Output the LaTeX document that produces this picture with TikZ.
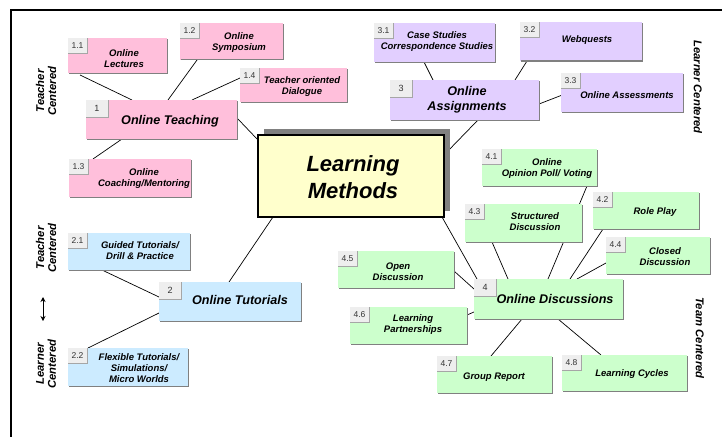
\documentclass[tikz,border=0pt]{standalone}
\usepackage{fontspec}
\setmainfont{Liberation Sans}
\usetikzlibrary{calc,backgrounds,arrows.meta}

\definecolor{pinkfill}{HTML}{FFBFDB}
\definecolor{lilacfill}{HTML}{E2CFFF}
\definecolor{bluefill}{HTML}{CCEBFF}
\definecolor{greenfill}{HTML}{CCFFCC}
\definecolor{yellowfill}{HTML}{FFFFCC}
\definecolor{edgegray}{HTML}{808080}
\definecolor{tagfill}{HTML}{EEEEEE}

\tikzset{
  boxbase/.style={rectangle, inner sep=0pt, outer sep=0pt, anchor=north west},
  tagbox/.style={rectangle, fill=tagfill, inner sep=0pt, outer sep=0pt, anchor=north west,
    font=\fontsize{8.5}{10}\selectfont, text=black!80},
  smalltag/.style={minimum width=19pt, minimum height=15pt},
  maintag/.style={minimum width=22pt, minimum height=17pt, font=\fontsize{9}{10}\selectfont},
  smalltext/.style={font=\fontsize{9.5}{11}\selectfont\bfseries\itshape, align=center, inner sep=0pt},
  maintext/.style={font=\fontsize{12.6}{15.5}\selectfont\bfseries\itshape, align=center, inner sep=0pt},
  sidetext/.style={font=\fontsize{11.3}{12}\selectfont\bfseries\itshape, align=center, inner sep=0pt},
  link/.style={draw=black, line width=0.7pt},
}

% #1 name, #2 fill, #3 x, #4 y, #5 width, #6 height, #7 number, #8 tag size
\newcommand\topicbox[8]{%
  \node[boxbase, fill=#2, minimum width=#5pt, minimum height=#6pt] (#1) at (#3,#4) {};
  \draw[edgegray, line width=1pt] ([xshift=1pt]#1.south west) -- (#1.south east) -- ([yshift=-1pt]#1.north east);
  \node[tagbox, #8] (#1tag) at (#1.north west) {#7};
  \draw[edgegray!70, line width=0.8pt] (#1tag.south west) -| (#1tag.north east);
}

\begin{document}
\begin{tikzpicture}[x=1pt, y=-1pt]
\useasboundingbox (0,0) rectangle (722,436);

% outer frame
\draw[line width=2pt] (11,437) |- (723,10);

% central topic
\fill[edgegray] (264,129) rectangle (450,211);
\node[boxbase, fill=yellowfill, draw=black, line width=1.2pt, minimum width=186pt, minimum height=82pt] (lm) at (258,135) {};
\node[font=\fontsize{22}{27}\selectfont\bfseries\itshape, align=center, inner sep=0pt] (lmtext) at (353,177) {Learning\\Methods};

% 1 Online Teaching
\topicbox{b1}{pinkfill}{86}{100}{151}{39}{1}{maintag}
\node[maintext] (t1) at (170,121) {Online Teaching};
\topicbox{b11}{pinkfill}{68}{38}{99}{35}{1.1}{smalltag}
\node[smalltext] (t11) at (124,59) {Online\\Lectures};
\topicbox{b12}{pinkfill}{180}{23}{103}{37}{1.2}{smalltag}
\node[smalltext] (t12) at (239,43) {Online\\Symposium};
\topicbox{b14}{pinkfill}{240}{68}{107}{34}{1.4}{smalltag}
\node[smalltext] (t14) at (302,87) {Teacher oriented\\Dialogue};
\topicbox{b13}{pinkfill}{69}{159}{122}{38}{1.3}{smalltag}
\node[smalltext] (t13) at (144,179) {Online\\Coaching/Mentoring};

% 3 Online Assignments
\topicbox{b3}{lilacfill}{390}{80}{149}{40}{3}{maintag}
\node[maintext] (t3) at (467,99.5) {Online\\Assignments};
\topicbox{b31}{lilacfill}{374}{23}{121}{39}{3.1}{smalltag}
\node[smalltext] (t31) at (437,42) {Case Studies\\Correspondence Studies};
\topicbox{b32}{lilacfill}{520}{22}{122}{39}{3.2}{smalltag}
\node[smalltext] (t32) at (587,40) {Webquests};
\topicbox{b33}{lilacfill}{561}{73}{122}{39}{3.3}{smalltag}
\node[smalltext] (t33) at (627,95) {Online Assessments};

% 2 Online Tutorials
\topicbox{b2}{bluefill}{159}{282}{142}{39}{2}{maintag}
\node[maintext] (t2) at (240,300) {Online Tutorials};
\topicbox{b21}{bluefill}{68}{233}{122}{37}{2.1}{smalltag}
\node[smalltext] (t21) at (140,251) {Guided Tutorials/\\Drill \& Practice};
\topicbox{b22}{bluefill}{68}{348}{120}{38}{2.2}{smalltag}
\node[smalltext] (t22) at (139,368) {Flexible Tutorials/\\Simulations/\\Micro Worlds};

% 4 Online Discussions
\topicbox{b41}{greenfill}{482}{149}{115}{37}{4.1}{smalltag}
\node[smalltext] (t41) at (547,169) {Online\\Opinion Poll/ Voting};
\topicbox{b42}{greenfill}{593}{192}{106}{37}{4.2}{smalltag}
\node[smalltext] (t42) at (655,212) {Role Play};
\topicbox{b43}{greenfill}{465}{204}{117}{38}{4.3}{smalltag}
\node[smalltext] (t43) at (535,222) {Structured\\Discussion};
\topicbox{b44}{greenfill}{606}{237}{104}{37}{4.4}{smalltag}
\node[smalltext] (t44) at (665,257) {Closed\\Discussion};
\topicbox{b45}{greenfill}{338}{251}{116}{37}{4.5}{smalltag}
\node[smalltext] (t45) at (398,272) {Open\\Discussion};
\topicbox{b4}{greenfill}{474}{279}{149}{40}{4}{maintag}
\node[maintext] (t4) at (555,299) {Online Discussions};
\topicbox{b46}{greenfill}{350}{307}{117}{37}{4.6}{smalltag}
\node[smalltext] (t46) at (413,325) {Learning\\Partnerships};
\topicbox{b47}{greenfill}{437}{356}{115}{37}{4.7}{smalltag}
\node[smalltext] (t47) at (494,377) {Group Report};
\topicbox{b48}{greenfill}{562}{355}{125}{36}{4.8}{smalltag}
\node[smalltext] (t48) at (632,374) {Learning Cycles};

% side captions
\node[sidetext, rotate=90] (tc1) at (46,91) {Teacher\\Centered};
\node[sidetext, rotate=90] (tc2) at (46,248) {Teacher\\Centered};
\node[sidetext, rotate=90] (lc1) at (46,364) {Learner\\Centered};
\node[sidetext, rotate=-90] (lc2) at (698,87) {Learner Centered};
\node[sidetext, rotate=-90] (tmc) at (700,338) {Team Centered};
\coordinate (arrtop) at (43,297);
\coordinate (arrbot) at (43,321);
\draw[{Stealth[length=5pt,width=5pt]}-{Stealth[length=5pt,width=5pt]}, line width=1pt] (arrtop) -- (arrbot);

% connectors, kept behind the boxes
\begin{pgfonlayer}{background}
\draw[link] ($(b11.south west)+(12,2)$) -- ($(b1.north west)+(46,0)$);
\draw[link] ($(b12.south west)+(17,0)$) -- ($(b1.north west)+(82,0)$);
\draw[link] ($(b14.north west)+(0,10)$) -- ($(b1.north west)+(106,0)$);
\draw[link] ($(b13.north west)+(24,0)$) -- ($(b1.south west)+(36,0)$);
\draw[link] ($(b1.north east)+(0,18)$) -- ($(lm.north west)+(0,5)$);
\draw[link] ($(b31.south west)+(50,0)$) -- ($(b3.north west)+(43,0)$);
\draw[link] ($(b32.south west)+(7,0)$) -- ($(b3.north west)+(125,0)$);
\draw[link] ($(b33.west)+(0,3)$) -- ($(b3.north east)+(0,24)$);
\draw[link] ($(b3.south west)+(88,0)$) -- ($(lm.north east)+(0,20)$);
\draw[link] ($(lm.south west)+(15,0)$) -- ($(b2.north west)+(70,0)$);
\draw[link] ($(lm.south east)+(-2,0)$) -- ($(b4.north west)+(3,0)$);
\draw[link] ($(b21.south west)+(34,0)$) -- ($(b2.north west)+(0,15)$);
\draw[link] ($(b22.north west)+(20,0)$) -- ($(b2.south west)+(0,-8)$);
\draw[link] ($(b41.south east)+(-10,0)$) -- ($(b4.north west)+(74,0)$);
\draw[link] ($(b43.south west)+(27,0)$) -- ($(b4.north west)+(34,0)$);
\draw[link] ($(b42.south west)+(10,0)$) -- ($(b4.north west)+(96,0)$);
\draw[link] ($(b44.south west)+(0,-11)$) -- ($(b4.north west)+(103,0)$);
\draw[link] ($(b45.north east)+(0,20)$) -- ($(b4.north west)+(0,10)$);
\draw[link] ($(b46.north east)+(0,8)$) -- ($(b4.north west)+(0,33)$);
\draw[link] ($(b47.north west)+(54,0)$) -- ($(b4.south west)+(48,0)$);
\draw[link] ($(b48.north west)+(39,0)$) -- ($(b4.south west)+(84,0)$);
\end{pgfonlayer}
\end{tikzpicture}
\end{document}
